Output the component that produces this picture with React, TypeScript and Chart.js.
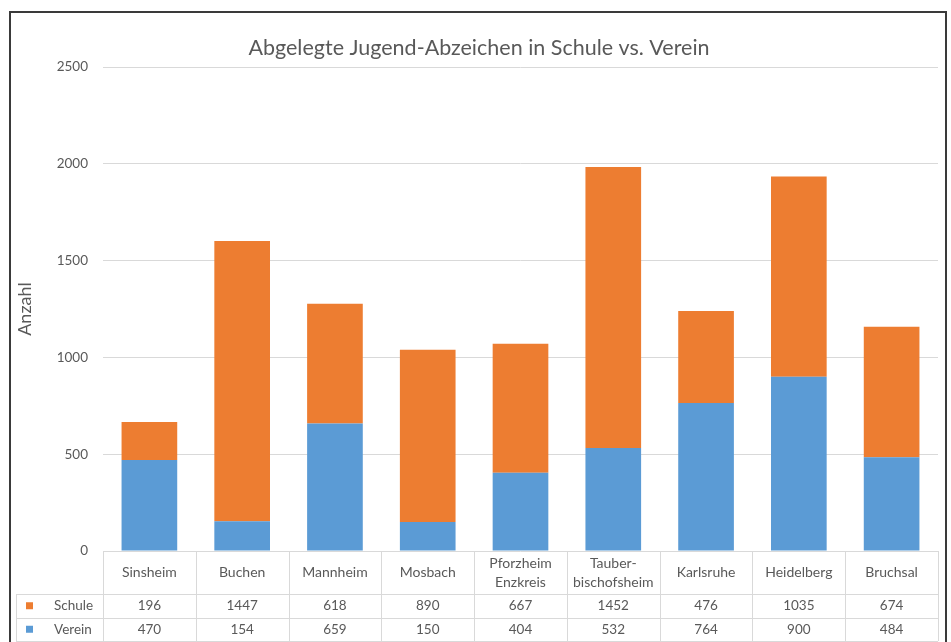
import React, { useEffect, useRef } from 'react';
import { Chart, registerables } from 'chart.js';

Chart.register(...registerables);

const TITLE = 'Abgelegte Jugend-Abzeichen in Schule vs. Verein';
const Y_TITLE = 'Anzahl';
const categories: string[][] = [
  ['Sinsheim'],
  ['Buchen'],
  ['Mannheim'],
  ['Mosbach'],
  ['Pforzheim', 'Enzkreis'],
  ['Tauber-', 'bischofsheim'],
  ['Karlsruhe'],
  ['Heidelberg'],
  ['Bruchsal'],
];
const schule = [196, 1447, 618, 890, 667, 1452, 476, 1035, 674];
const verein = [470, 154, 659, 150, 404, 532, 764, 900, 484];
const yTicks = [0, 500, 1000, 1500, 2000, 2500];

const ORANGE = '#ED7D31';
const BLUE = '#5B9BD5';
const TEXT = '#595959';
const GRID = '#D9D9D9';
const FONT = 'Lato, "Open Sans", sans-serif';

const tableRows = [
  { name: 'Schule', color: ORANGE, values: schule },
  { name: 'Verein', color: BLUE, values: verein },
];

const framePlugin = {
  id: 'frameAndTable',
  beforeDraw(chart: any) {
    const ctx = chart.ctx;
    ctx.save();
    ctx.fillStyle = '#ffffff';
    ctx.fillRect(0, 0, chart.width, chart.height);
    ctx.restore();
  },
  afterDraw(chart: any) {
    const ctx = chart.ctx;
    const area = chart.chartArea;
    const n = categories.length;
    const colW = (area.right - area.left) / n;
    const headerH = 43;
    const rowH = 23.5;
    const top = area.bottom;
    const tableLeft = 16;
    const bottom = top + headerH + rowH * tableRows.length;

    ctx.save();
    // title
    ctx.fillStyle = TEXT;
    ctx.font = `21.5px ${FONT}`;
    ctx.textAlign = 'center';
    ctx.textBaseline = 'middle';
    ctx.fillText(TITLE, 479, 48);

    // table lines
    ctx.strokeStyle = GRID;
    ctx.lineWidth = 1;
    ctx.beginPath();
    for (let i = 0; i <= n; i++) {
      const x = Math.round(area.left + i * colW) + 0.5;
      ctx.moveTo(x, top);
      ctx.lineTo(x, bottom);
    }
    ctx.moveTo(tableLeft + 0.5, top + headerH);
    ctx.lineTo(tableLeft + 0.5, bottom);
    for (let r = 0; r <= tableRows.length; r++) {
      const y = Math.round(top + headerH + r * rowH) + 0.5;
      ctx.moveTo(tableLeft, y);
      ctx.lineTo(area.right, y);
    }
    ctx.stroke();

    // header labels
    ctx.fillStyle = TEXT;
    ctx.font = `14px ${FONT}`;
    ctx.textAlign = 'center';
    ctx.textBaseline = 'middle';
    categories.forEach((lines, i) => {
      const cx = area.left + (i + 0.5) * colW;
      const lh = 19;
      const startY = top + headerH / 2 - ((lines.length - 1) * lh) / 2;
      lines.forEach((t, k) => ctx.fillText(t, cx, startY + k * lh));
    });

    // rows
    ctx.font = `13.5px ${FONT}`;
    tableRows.forEach((row, r) => {
      const cy = top + headerH + r * rowH + rowH / 2;
      ctx.fillStyle = row.color;
      ctx.fillRect(26, cy - 3.5, 7, 7);
      ctx.fillStyle = TEXT;
      ctx.textAlign = 'left';
      ctx.fillText(row.name, 54, cy);
      ctx.textAlign = 'center';
      row.values.forEach((v, i) => {
        const cx = area.left + (i + 0.5) * colW;
        ctx.fillText(String(v), cx, cy);
      });
    });

    // frame
    ctx.strokeStyle = '#3a3a3a';
    ctx.lineWidth = 2;
    ctx.beginPath();
    ctx.moveTo(10, chart.height + 2);
    ctx.lineTo(10, 12);
    ctx.lineTo(946, 12);
    ctx.lineTo(946, chart.height + 2);
    ctx.stroke();
    ctx.restore();
  },
};

export default function App() {
  const ref = useRef<HTMLCanvasElement | null>(null);
  useEffect(() => {
    if (!ref.current) return;
    const chart = new Chart(ref.current, {
      type: 'bar',
      data: {
        labels: categories,
        datasets: [
          {
            label: 'Verein',
            data: verein,
            backgroundColor: BLUE,
            barPercentage: 0.6,
            categoryPercentage: 1.0,
          },
          {
            label: 'Schule',
            data: schule,
            backgroundColor: ORANGE,
            barPercentage: 0.6,
            categoryPercentage: 1.0,
          },
        ],
      },
      options: {
        responsive: false,
        animation: false,
        layout: { padding: { top: 67, bottom: 91, left: 0, right: 13 } },
        plugins: {
          legend: { display: false },
          title: { display: false },
          tooltip: { enabled: false },
        },
        scales: {
          x: { stacked: true, display: false },
          y: {
            stacked: true,
            min: 0,
            max: 2500,
            afterBuildTicks: (scale: any) => {
              scale.ticks = yTicks.map((v) => ({ value: v }));
            },
            afterFit: (scale: any) => {
              scale.width = 103;
            },
            grid: { color: GRID, lineWidth: 1, drawTicks: false },
            border: { display: false },
            ticks: {
              color: TEXT,
              font: { family: FONT, size: 13.5 },
              padding: 15,
              callback: (v: any) => String(v),
            },
            title: {
              display: true,
              text: Y_TITLE,
              color: TEXT,
              font: { family: FONT, size: 18 },
              padding: { top: 14, bottom: 0 },
            },
          },
        },
      },
      plugins: [framePlugin],
    });
    return () => chart.destroy();
  }, []);
  return (
    <div style={{ position: 'absolute', left: 0, top: 0, width: 951, height: 642 }}>
      <canvas ref={ref} width={951} height={642} style={{ display: 'block' }} />
    </div>
  );
}
